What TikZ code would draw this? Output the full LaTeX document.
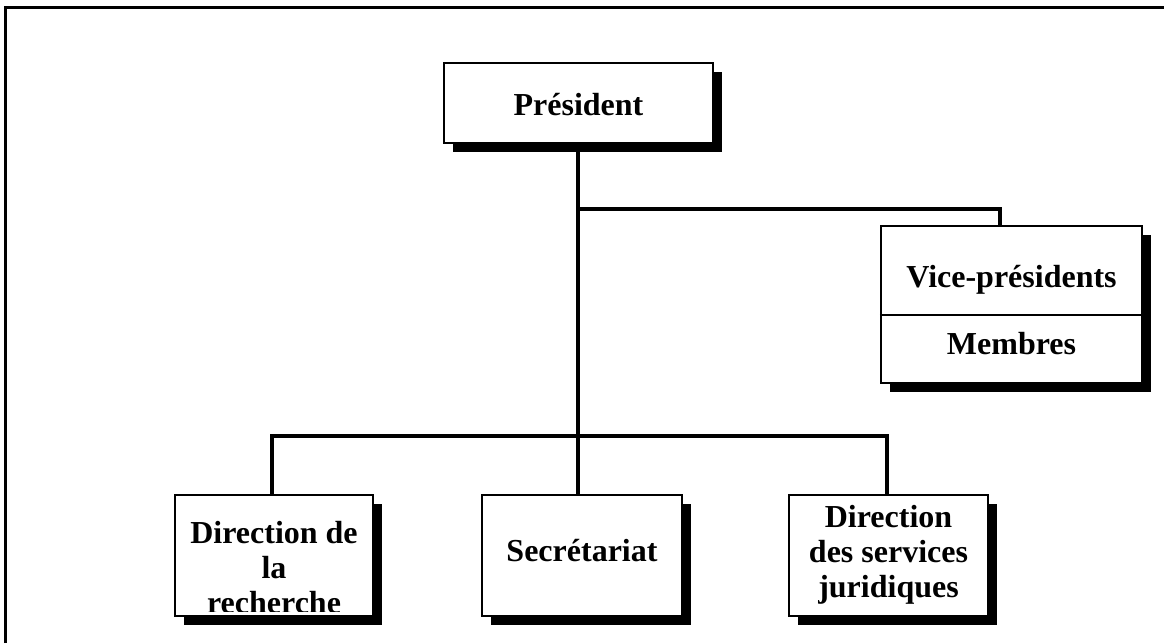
\documentclass[tikz,border=0pt]{standalone}
\usepackage{fontspec}
\setmainfont{Liberation Serif}
\usetikzlibrary{shadows}
\begin{document}
\begin{tikzpicture}[x=1pt,y=-1pt,
  box/.style={draw=black,line width=2.5pt,fill=white,inner sep=0pt,
    drop shadow={shadow xshift=9pt,shadow yshift=-9pt,fill=black,opacity=1}},
  conn/.style={line width=3.5pt,line cap=rect},
  lbl/.style={font=\bfseries\fontsize{32}{35}\selectfont,align=center,inner sep=0pt,anchor=base}]
\useasboundingbox (0,0) rectangle (1164,643);
% outer frame (top and left edges)
\draw[line width=3pt] (5,643) -- (5,7) -- (1164,7);
% boxes
\node[box,minimum width=269pt,minimum height=80pt] (pres) at (578.5,103) {};
\node[box,minimum width=261pt,minimum height=157pt] (vp) at (1011.5,304.5) {};
\draw[line width=2.5pt] (vp.west |- {(0,315)}) coordinate (vpl) -- (vp.east |- vpl);
\node[box,minimum width=198pt,minimum height=121pt] (d1) at (274,555.5) {};
\node[box,minimum width=200pt,minimum height=121pt] (d2) at (582,555.5) {};
\node[box,minimum width=199pt,minimum height=121pt] (d3) at (888.5,555.5) {};
% connectors
\coordinate (j1) at (578,209);
\coordinate (j2) at (578,436);
\coordinate (vj) at (1000,209);
\coordinate (bl) at (272,436);
\coordinate (br) at (887,436);
\draw[conn] (pres.south -| j1) -- (j2);
\draw[conn] (j1) -- (vj) -- (vj |- vp.north);
\draw[conn] (bl) -- (br);
\draw[conn] (bl) -- (bl |- d1.north);
\draw[conn] (j2) -- (j2 |- d2.north);
\draw[conn] (br) -- (br |- d3.north);
% labels
\node[lbl] (tpres) at (578.5,115) {Président};
\node[lbl] (tvp) at (1011.5,287) {Vice-présidents};
\node[lbl] (tmem) at (1011.5,354) {Membres};
\begin{scope}
\clip (178,498) rectangle (370,611);
\node[lbl] (td1) at (274,613) {Direction de\\la\\recherche};
\end{scope}
\node[lbl] (td2) at (582,561) {Secrétariat};
\node[lbl] (td3) at (888.5,597) {Direction\\des services\\juridiques};
\end{tikzpicture}
\end{document}
